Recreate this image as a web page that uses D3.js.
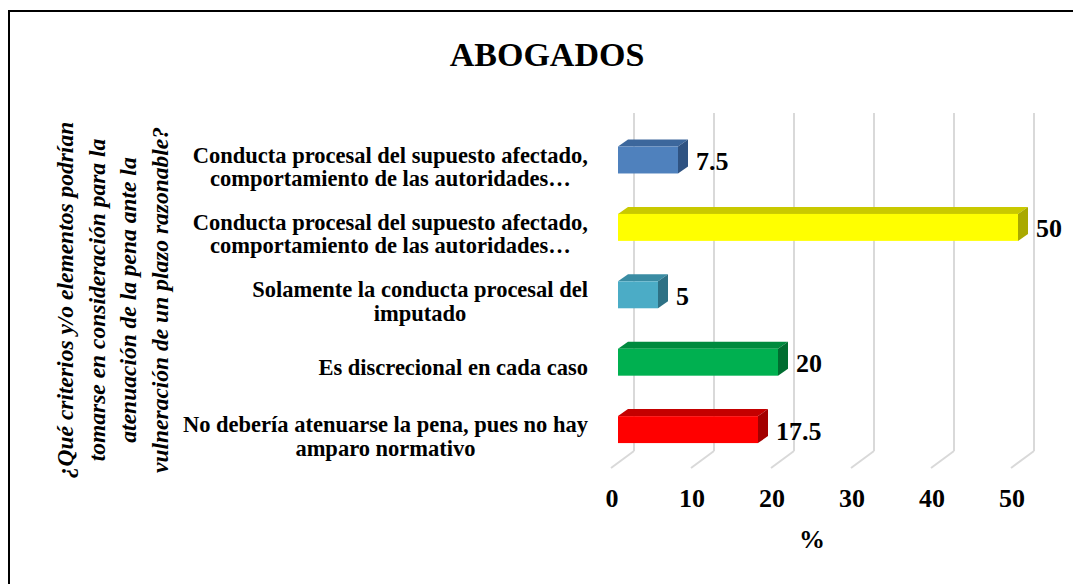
<!DOCTYPE html>
<html>
<head>
<meta charset="utf-8">
<script src="https://cdn.jsdelivr.net/npm/d3@7"></script>
<style>
  body { margin: 0; background: #fff; }
  text { font-family: "Liberation Serif", "DejaVu Serif", serif; font-weight: bold; fill: #000; }
</style>
</head>
<body>
<div id="root"></div>
<script>
const width = 1073;
const height = 584;

// data
const labelLines = [
  ['Conducta procesal del supuesto afectado,', 'comportamiento de las autoridades…'],
  ['Conducta procesal del supuesto afectado,', 'comportamiento de las autoridades…'],
  ['Solamente la conducta procesal del', 'imputado'],
  ['Es discrecional en cada caso'],
  ['No debería atenuarse la pena, pues no hay', 'amparo normativo']
];
const values = [7.5, 50, 5, 20, 17.5];
const ticks = [0, 10, 20, 30, 40, 50];
const titleLines = [
  '¿Qué criterios y/o elementos podrían',
  'tomarse en consideración para la',
  'atenuación de la pena ante la',
  'vulneración de un plazo razonable?'
];
// front, top, side colours
const colors = [
  ['#4F81BD', '#3C679C', '#2F5382'],
  ['#FFFF00', '#C9C900', '#A9A900'],
  ['#4BACC6', '#3A8CA3', '#2E7185'],
  ['#00B050', '#008A3E', '#006D30'],
  ['#FF0000', '#C40000', '#A30000']
];

const svg = d3.select('#root')
  .append('svg')
  .attr('width', width).attr('height', height);

// frame (left and top only visible)
svg.append('path')
  .attr('d', `M9,${height} L9,11 L${width},11`)
  .attr('fill', 'none').attr('stroke', '#000').attr('stroke-width', 2);

svg.append('text')
  .attr('x', 547).attr('y', 66)
  .attr('text-anchor', 'middle')
  .style('font-size', '34px')
  .text('ABOGADOS');

const frontX = 611;   // front plane x for 0
const floorY = 468;
const depth = {dx: 23, dy: -17};
const barOff = 7;     // bar front offset from front plane
const barDepth = {dx: 10, dy: -7};

const x = d3.scaleLinear().domain([0, 50]).range([0, 400]);
const y = d3.scaleBand()
  .domain(d3.range(values.length))
  .range([126.3, 463.3])
  .paddingInner(0.6)
  .paddingOuter(0.3);

// gridlines on back wall + floor diagonals
const grid = svg.append('g');
ticks.forEach(t => {
  const bx = frontX + depth.dx + x(t);
  grid.append('line')
    .attr('x1', bx).attr('x2', bx)
    .attr('y1', 113).attr('y2', floorY + depth.dy)
    .attr('stroke', '#D9D9D9').attr('stroke-width', 2);
  grid.append('line')
    .attr('x1', bx).attr('y1', floorY + depth.dy)
    .attr('x2', frontX + x(t)).attr('y2', floorY)
    .attr('stroke', '#D9D9D9').attr('stroke-width', 2);
});

// bars
const gs = svg.selectAll('.bar')
  .data(values).enter()
  .append('g')
  .attr('class', 'bar');

const bx0 = frontX + barOff;
gs.append('path') // top face
  .attr('d', (d, i) => {
    const y0 = y(i), x1 = bx0 + x(d);
    return `M${bx0},${y0} L${bx0 + barDepth.dx},${y0 + barDepth.dy} L${x1 + barDepth.dx},${y0 + barDepth.dy} L${x1},${y0} Z`;
  })
  .attr('fill', (d, i) => colors[i][1]);
gs.append('path') // side face
  .attr('d', (d, i) => {
    const y0 = y(i), y1 = y0 + y.bandwidth(), x1 = bx0 + x(d);
    return `M${x1},${y0} L${x1 + barDepth.dx},${y0 + barDepth.dy} L${x1 + barDepth.dx},${y1 + barDepth.dy} L${x1},${y1} Z`;
  })
  .attr('fill', (d, i) => colors[i][2]);
gs.append('rect') // front face
  .attr('x', bx0)
  .attr('y', (d, i) => y(i))
  .attr('width', d => x(d))
  .attr('height', y.bandwidth())
  .attr('fill', (d, i) => colors[i][0]);

gs.append('text')
  .attr('x', d => bx0 + x(d) + barDepth.dx + 8)
  .attr('y', (d, i) => y(i) + y.bandwidth() / 2 + 10)
  .style('font-size', '26px')
  .text(d => d);

// category labels
const labelRight = 588;
labelLines.forEach((lines, i) => {
  const c = y(i) + y.bandwidth() / 2;
  const t = svg.append('text').style('font-size', '22.5px');
  const spans = lines.map((l, j) => t.append('tspan')
    .attr('y', c + 12.5 - (lines.length - 1) * 10 + j * 23.5)
    .text(l));
  const w = d3.max(spans, s => s.node().getComputedTextLength());
  spans.forEach(s => s.attr('x', labelRight - w / 2).attr('text-anchor', 'middle'));
});

// x tick labels
svg.append('g').selectAll('text')
  .data(ticks).enter()
  .append('text')
  .attr('x', d => frontX + 1 + x(d))
  .attr('y', 507)
  .attr('text-anchor', 'middle')
  .style('font-size', '26px')
  .text(d => d);

svg.append('text')
  .attr('x', 812).attr('y', 548)
  .attr('text-anchor', 'middle')
  .style('font-size', '26px')
  .text('%');

// y axis title
const yt = svg.append('text')
  .attr('transform', 'translate(0,300) rotate(-90)')
  .attr('text-anchor', 'middle')
  .style('font-size', '23.5px')
  .style('font-style', 'italic');
titleLines.forEach((l, j) => {
  yt.append('tspan').attr('x', 0).attr('y', 73 + j * 31.7).text(l);
});
</script>
</body>
</html>
